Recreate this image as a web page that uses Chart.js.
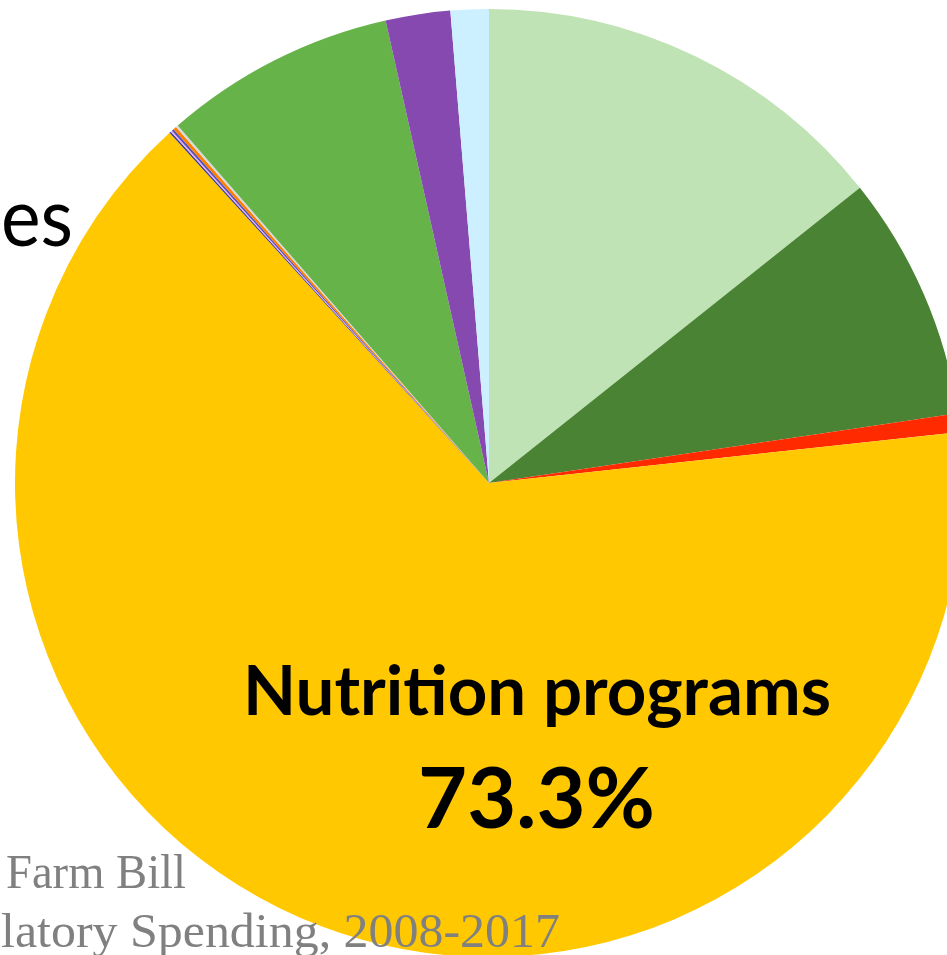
<!DOCTYPE html>
<html>
<head>
<meta charset="utf-8">
<script src="https://cdn.jsdelivr.net/npm/chart.js@4.4.0/dist/chart.umd.min.js"></script>
<style>
html,body{margin:0;padding:0;background:#fff;overflow:hidden;width:947px;height:955px;}
#wrap{position:absolute;left:0;top:0;width:978px;height:966px;}
</style>
</head>
<body>
<div id="wrap"><canvas id="c" width="978" height="966" style="width:978px;height:966px"></canvas></div>
<script>
const categories = ['Commodity programs','Conservation','Trade','Nutrition programs','Credit','Rural development','Research','Forestry','Energy','Crop insurance','Horticulture','Miscellaneous'];
const shares = [14.3, 8.35, 0.63, 64.94, 0.06, 0.05, 0.07, 0.11, 0.08, 7.9, 2.2, 1.3];
const sliceColors = ['#bfe3b4','#4a8334','#ff2a00','#ffc800','#3d3d90','#f0a8f0','#5252b8','#ff7f00','#d9d9d9','#66b34a','#8549b0','#ccf0ff'];
const nutritionLabel = 'Nutrition programs';
const nutritionPct = '73.3%';
const titleLine1 = 'Farm Bill';
const titleLine2 = 'latory Spending, 2008-2017';
const cutLabel = 'es';

function drawFit(ctx, text, family, weight, left, right, baseline, color, size){
  ctx.save();
  ctx.font = weight + ' 100px ' + family;
  const w = ctx.measureText(text).width;
  let sx = 1;
  if (!size) { size = 100 * (right - left) / w; }
  else { sx = (right - left) / (w * size / 100); }
  ctx.font = weight + ' ' + size + 'px ' + family;
  ctx.fillStyle = color;
  ctx.textAlign = 'left';
  ctx.textBaseline = 'alphabetic';
  ctx.translate(left, baseline);
  ctx.scale(sx, 1);
  ctx.fillText(text, 0, 0);
  ctx.restore();
}

const textPlugin = {
  id: 'texts',
  afterDraw(chart){
    const ctx = chart.ctx;
    drawFit(ctx, cutLabel, 'Lato', 'normal', 1, 73, 246, '#000', 82);
    drawFit(ctx, nutritionLabel, 'Lato', 'bold', 243, 831, 715, '#000');
    drawFit(ctx, nutritionPct, 'Lato', 'bold', 418, 655, 828, '#000');
    drawFit(ctx, titleLine1, '"Liberation Serif"', 'normal', 6, 186, 888, '#808080', 48);
    drawFit(ctx, titleLine2, '"Liberation Serif"', 'normal', 1, 560, 947, '#808080', 48);
  }
};

new Chart(document.getElementById('c'), {
  type: 'pie',
  data: {
    labels: categories,
    datasets: [{
      data: shares,
      backgroundColor: sliceColors,
      borderWidth: 0
    }]
  },
  options: {
    responsive: false,
    animation: false,
    layout: { padding: 9 },
    plugins: { legend: { display: false }, tooltip: { enabled: false }, title: { display: false } }
  },
  plugins: [textPlugin]
});
</script>
</body>
</html>
